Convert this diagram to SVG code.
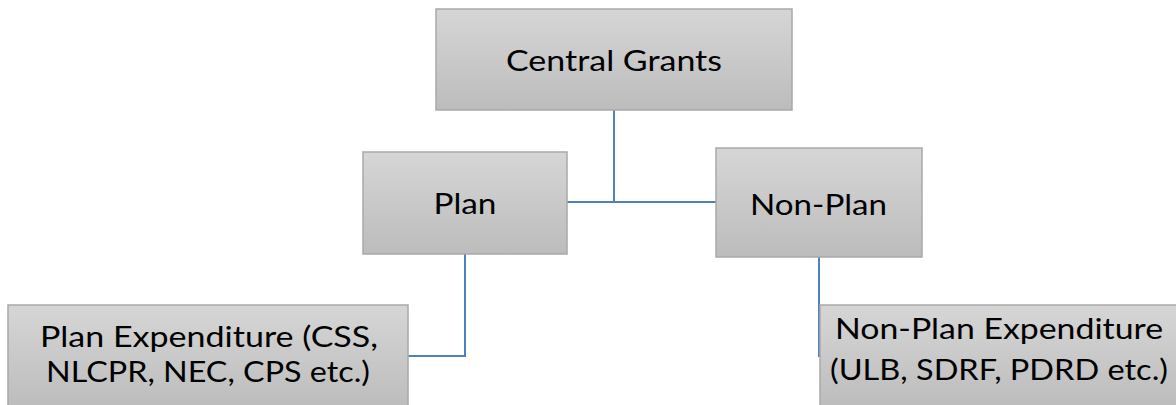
<svg xmlns="http://www.w3.org/2000/svg" width="1176" height="405" viewBox="0 0 1176 405">
  <defs>
    <linearGradient id="boxFill" x1="0" y1="0" x2="0" y2="1">
      <stop offset="0" stop-color="#d6d6d6"/>
      <stop offset="1" stop-color="#bcbcbc"/>
    </linearGradient>
    <style>
      .box { fill: url(#boxFill); stroke: #a9a9a9; stroke-width: 1.5; }
      .label { font-family: Lato, "Open Sans", sans-serif; font-size: 29px; fill: #000; text-anchor: middle; }
      .link { fill: none; stroke: #4f81bd; stroke-width: 2; }
    </style>
  </defs>
  <rect width="1176" height="405" fill="#ffffff"/>

  <!-- connectors -->
  <g id="connectors">
    <path class="link" d="M614 110 V202"/>
    <path class="link" d="M567 202 H716"/>
    <path class="link" d="M465 254 V356 H408"/>
    <path class="link" d="M819 257 V357"/>
  </g>

  <g id="central-grants">
    <rect class="box" x="436" y="9" width="356" height="101"/>
    <text class="label" x="614" y="71" textLength="216" lengthAdjust="spacingAndGlyphs">Central Grants</text>
  </g>

  <g id="plan">
    <rect class="box" x="363" y="152" width="204" height="102"/>
    <text class="label" x="465" y="214" textLength="63" lengthAdjust="spacingAndGlyphs">Plan</text>
  </g>

  <g id="non-plan">
    <rect class="box" x="716" y="148" width="206" height="109"/>
    <text class="label" x="818.5" y="215" textLength="137" lengthAdjust="spacingAndGlyphs">Non-Plan</text>
  </g>

  <g id="plan-expenditure">
    <rect class="box" x="8" y="305" width="400" height="104"/>
    <text class="label" x="209" y="347" textLength="338" lengthAdjust="spacingAndGlyphs">Plan Expenditure (CSS,</text>
    <text class="label" x="208" y="382" textLength="324" lengthAdjust="spacingAndGlyphs">NLCPR, NEC, CPS etc.)</text>
  </g>

  <g id="non-plan-expenditure">
    <rect class="box" x="820" y="305" width="360" height="104"/>
    <text class="label" x="999" y="339" textLength="328" lengthAdjust="spacingAndGlyphs">Non-Plan Expenditure</text>
    <text class="label" x="999" y="380" textLength="338" lengthAdjust="spacingAndGlyphs">(ULB, SDRF, PDRD etc.)</text>
  </g>
</svg>
